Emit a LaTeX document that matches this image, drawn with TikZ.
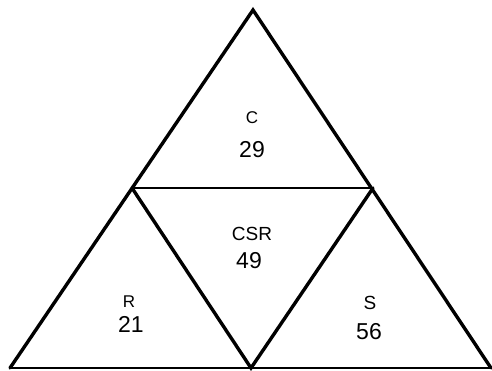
\documentclass[tikz,border=0pt]{standalone}
\usepackage{fontspec}
\setmainfont{Liberation Sans}
\begin{document}
\begin{tikzpicture}[x=1pt,y=-1pt,
  edge/.style={line width=3.4pt,line join=miter,line cap=round},
  thin edge/.style={line width=2.4pt},
  small/.style={font=\fontsize{17}{17}\selectfont,inner sep=0pt},
  mid/.style={font=\fontsize{19}{19}\selectfont,inner sep=0pt},
  big/.style={font=\fontsize{23}{23}\selectfont,inner sep=0pt}]
\useasboundingbox (0,0) rectangle (492,370);
\coordinate (top) at (253,10);
\coordinate (bl) at (10,368);
\coordinate (br) at (491,368);
\coordinate (bm) at (251,368);
\coordinate (lm) at (132,188);
\coordinate (rm) at (373,188);
\draw[edge] (bl) -- (top) -- (br);
\draw[thin edge] (bl) -- (br);
\draw[thin edge] (lm) -- (rm);
\draw[edge] (lm) -- (bm) -- (rm);
\node[small] (c) at (252,118) {C};
\node[big] (n29) at (252,150) {29};
\node[mid] (csr) at (252,234) {CSR};
\node[big] (n49) at (249,261) {49};
\node[small] (r) at (129,302) {R};
\node[big] (n21) at (131,324) {21};
\node[mid] (s) at (370,303) {S};
\node[big] (n56) at (369,332) {56};
\end{tikzpicture}
\end{document}
